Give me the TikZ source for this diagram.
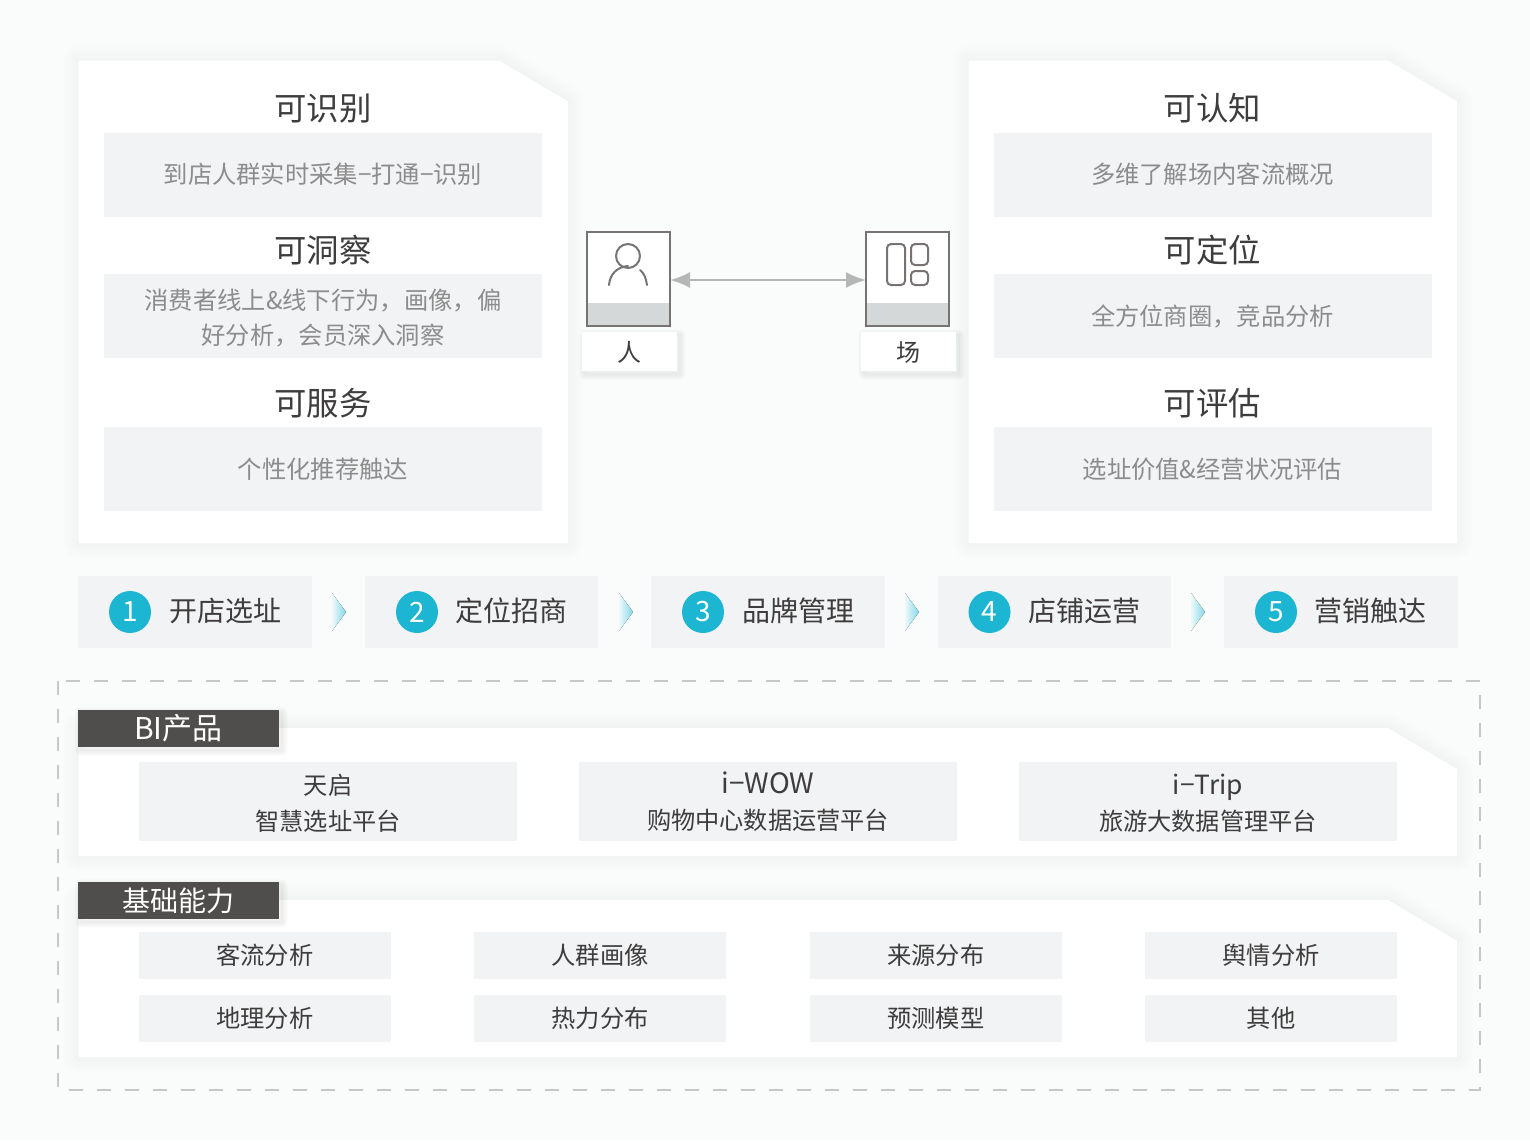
\documentclass[tikz,border=0pt]{standalone}
\usepackage{fontspec}
\setmainfont{Noto Sans CJK SC}
\usetikzlibrary{arrows.meta,positioning,matrix}

\definecolor{pagebg}{HTML}{FAFCFC}
\definecolor{boxgray}{HTML}{F2F3F5}
\definecolor{titletext}{HTML}{3E3C3C}
\definecolor{softtext}{HTML}{8C8C8C}
\definecolor{darktag}{HTML}{504E4C}
\definecolor{tealdot}{HTML}{1DB6D2}
\definecolor{iconline}{HTML}{777373}
\definecolor{linkgray}{HTML}{B5B7B7}
\definecolor{stripgray}{HTML}{D5D8D8}

% soft shadow, then white panel with the cut corner: left, top, right, bottom
\newcommand{\cutpanel}[4]{
    \foreach \w in {32,28,...,4}
        \draw[black, opacity=.0055, line width=\w*.5pt, line join=round]
            (#1,#2) -- (#3-69,#2) -- (#3,#2+41) -- (#3,#4) -- (#1,#4) -- cycle;
    \fill[white] (#1,#2) -- (#3-69,#2) -- (#3,#2+41) -- (#3,#4) -- (#1,#4) -- cycle;
}
\newcommand{\softshadow}[4]{
    \foreach \w in {12,10,...,2}
        \draw[black, opacity=.012, line width=\w*.5pt, line join=round]
            (#1+3,#2+3) rectangle (#3+3,#4+3);
}
% pushes a text block down inside its fixed box
\newcommand{\droptext}{\rule{0pt}{12.7pt}}

\begin{document}
\begin{tikzpicture}[x=.5pt,y=-.5pt]
    \tikzstyle{paneltitle} = [text=titletext, font=\fontsize{16.2}{19}\selectfont]
    \tikzstyle{softbox} = [fill=boxgray, text=softtext, minimum width=219pt, minimum height=42pt,
        inner sep=0pt, outer sep=0pt, align=center, font=\fontsize{12.15}{17.5}\selectfont]
    \tikzstyle{stepbox} = [fill=boxgray, text=titletext, minimum width=116.75pt, minimum height=36pt,
        inner sep=0pt, outer sep=0pt, font=\fontsize{14}{17}\selectfont]
    \tikzstyle{stepdot} = [circle, fill=tealdot, text=white, minimum size=21pt, inner sep=0pt,
        font=\fontsize{14}{17}\selectfont]
    \tikzstyle{steptext} = [text=titletext, font=\fontsize{14}{17}\selectfont]
    \tikzstyle{stepmark} = [left color=tealdot!8, right color=tealdot!55, draw=none]
    \tikzstyle{tagbox} = [fill=darktag, text=white, minimum width=100.5pt, minimum height=18.5pt,
        inner sep=0pt, outer sep=0pt, font=\fontsize{14}{17}\selectfont]
    \tikzstyle{prodbox} = [fill=boxgray, text=titletext, minimum width=189pt, minimum height=39.5pt,
        inner sep=0pt, outer sep=0pt, align=center, font=\fontsize{12.1}{18}\selectfont]
    \tikzstyle{basebox} = [fill=boxgray, text=titletext, minimum width=126pt, minimum height=23.5pt,
        inner sep=0pt, outer sep=0pt, font=\fontsize{12.15}{15}\selectfont]
    \tikzstyle{iconbox} = [draw=iconline, fill=white, line width=.6pt, minimum width=41.5pt,
        minimum height=47pt, inner sep=0pt, outer sep=0pt]
    \tikzstyle{iconname} = [fill=white, text=titletext, minimum width=47.5pt, minimum height=19.5pt,
        inner sep=0pt, outer sep=0pt, font=\fontsize{12}{15}\selectfont]
    \tikzstyle{iconstroke} = [draw=iconline, line width=1pt, line cap=round]

    \useasboundingbox[fill=pagebg] (0,0) rectangle (1530,1140);

    % top panels
    \cutpanel{78.5}{60.5}{568}{543}
    \cutpanel{968.5}{60.5}{1457}{543}

    \node[paneltitle] (knowA) at (323,108.5) {可识别};
    \node[softbox] (knowAbox) at (323,174.5) {\raisebox{-.5pt}{到店人群实时采集−打通−识别}};
    \node[paneltitle] (seeA) at (323,250) {可洞察};
    \node[softbox] (seeAbox) at (323,316) {\droptext 消费者线上\&线下行为，画像，偏\\好分析，会员深入洞察};
    \node[paneltitle] (serveA) at (323,403) {可服务};
    \node[softbox] (serveAbox) at (323,469) {个性化推荐触达};

    \node[paneltitle] (knowB) at (1212.5,108.5) {可认知};
    \node[softbox] (knowBbox) at (1212.5,174.5) {\raisebox{-.5pt}{多维了解场内客流概况}};
    \node[paneltitle] (seeB) at (1212.5,250) {可定位};
    \node[softbox] (seeBbox) at (1212.5,316) {\raisebox{.5pt}{全方位商圈，竞品分析}};
    \node[paneltitle] (serveB) at (1212.5,403) {可评估};
    \node[softbox] (serveBbox) at (1212.5,469) {选址价值\&经营状况评估};

    % person and place
    \node[iconbox] (person) at (628.5,279) {};
    \node[iconbox] (place) at (907.5,279) {};
    \fill[stripgray] (person.south west) rectangle ([yshift=11.7pt]person.south east);
    \fill[stripgray] (place.south west) rectangle ([yshift=11.7pt]place.south east);
    \draw[draw=iconline, line width=.6pt] (person.north west) rectangle (person.south east);
    \draw[draw=iconline, line width=.6pt] (place.north west) rectangle (place.south east);

    \draw[iconstroke] (628,256) circle (12);
    \draw[iconstroke] (609,285) .. controls (610,274) and (617,267) .. (628,266);
    \draw[iconstroke] (647,285) .. controls (646,278) and (644,273) .. (640,270);
    \draw[iconstroke, rounded corners=2pt] (887,244) rectangle (905,285);
    \draw[iconstroke, rounded corners=2pt] (911,244) rectangle (928,265);
    \draw[iconstroke, rounded corners=2pt] (911,271) rectangle (928,285);

    \softshadow{582}{332}{677}{371}
    \softshadow{861}{332}{956}{371}
    \node[iconname] (personname) at (629.5,351.5) {\rule{0pt}{11pt}人};
    \node[iconname] (placename) at (908.5,351.5) {\rule{0pt}{11pt}场};

    \draw[{Latex[length=10pt,width=8pt]}-{Latex[length=10pt,width=8pt]}, draw=linkgray, line width=1.2pt]
        (person.east |- 0,280) -- (place.west |- 0,280);

    % steps
    \node[stepbox] (stepA) at (195,612) {};
    \node[stepbox, right=26.5pt of stepA] (stepB) {};
    \node[stepbox, right=26.5pt of stepB] (stepC) {};
    \node[stepbox, right=26.5pt of stepC] (stepD) {};
    \node[stepbox, right=26.5pt of stepD] (stepE) {};

    \node[stepdot] (dotA) at (130,612) {1};
    \node[stepdot] (dotB) at (417,612) {2};
    \node[stepdot] (dotC) at (703,612) {3};
    \node[stepdot] (dotD) at (989.5,612) {4};
    \node[stepdot] (dotE) at (1276,612) {5};
    \node[steptext] (nameA) at (225,611) {开店选址};
    \node[steptext] (nameB) at (511,611) {定位招商};
    \node[steptext] (nameC) at (798,611) {品牌管理};
    \node[steptext] (nameD) at (1084,611) {店铺运营};
    \node[steptext] (nameE) at (1370.5,611) {营销触达};

    \fill[stepmark] (332,593) -- (346,612) -- (332,631) -- cycle;
    \fill[stepmark] (619,593) -- (633,612) -- (619,631) -- cycle;
    \fill[stepmark] (905,593) -- (919,612) -- (905,631) -- cycle;
    \fill[stepmark] (1191,593) -- (1205,612) -- (1191,631) -- cycle;

    % lower frame
    \draw[draw=black!22, line width=.8pt, dash pattern=on 7pt off 7pt] (58,681) rectangle (1480,1090);

    \cutpanel{78.5}{728}{1457}{856}
    \cutpanel{78.5}{900}{1457}{1057}

    \softshadow{78}{710}{279}{747}
    \softshadow{78}{882}{279}{919}
    \node[tagbox, font=\fontsize{15}{18}\selectfont] (biTag) at (178.5,728.5) {BI产品};
    \node[tagbox] (baseTag) at (178.5,900.5) {基础能力};

    \node[prodbox] (prodA) at (328,801) {\rule{0pt}{12pt}天启\\智慧选址平台};
    \node[prodbox] (prodB) at (768,801) {\rule{0pt}{12pt}{\fontsize{14}{18}\selectfont i−WOW}\\购物中心数据运营平台};
    \node[prodbox] (prodC) at (1208,801) {\rule{0pt}{12pt}{\fontsize{13.2}{18}\selectfont i−Trip}\\旅游大数据管理平台};

    \matrix (basegrid) at (768,987)[row sep=8pt, column sep=41.75pt, every node/.style={basebox}] {
        \node (flow) {客流分析}; & \node (crowd) {人群画像}; & \node (source) {来源分布}; & \node (opinion) {舆情分析}; \\
        \node (geo) {地理分析}; & \node (heat) {热力分布}; & \node (model) {预测模型}; & \node (other) {其他}; \\
    };
\end{tikzpicture}
\end{document}
